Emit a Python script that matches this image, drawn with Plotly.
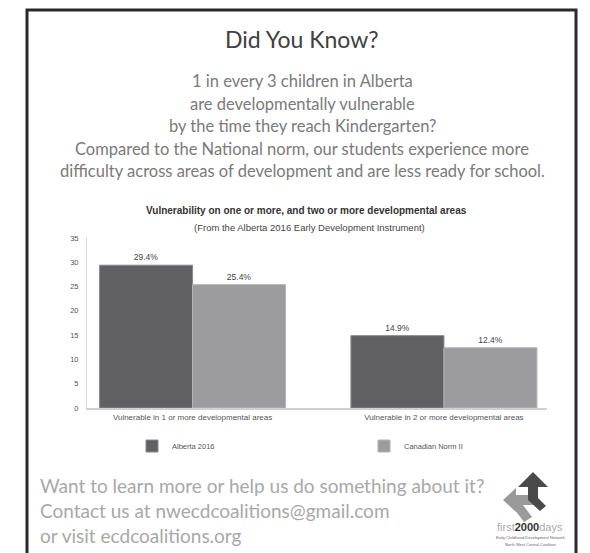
import plotly.graph_objects as go

categories = ["Vulnerable in 1 or more developmental areas", "Vulnerable in 2 or more developmental areas"]
alberta_2016 = [29.4, 14.9]
canadian_norm = [25.4, 12.4]
series_names = ["Alberta 2016", "Canadian Norm II"]
y_ticks = [0, 5, 10, 15, 20, 25, 30, 35]

W, H = 590, 553
L, R, T, B = 87, 43, 238, 145
PW, PH = W - L - R, H - T - B


def px(x):
    return (x - L) / PW


def py(y):
    return (H - B - y) / PH


xpos = list(range(len(categories)))

fig = go.Figure()
fig.add_trace(go.Bar(
    x=xpos, y=alberta_2016, name=series_names[0], legend="legend",
    marker=dict(color="#616163", line=dict(color="#8a8a8a", width=1)),
    text=[f"{v}%" for v in alberta_2016], textposition="outside",
    textfont=dict(size=8.5, color="#444", family="Liberation Sans"),
    cliponaxis=False,
))
fig.add_trace(go.Bar(
    x=xpos, y=canadian_norm, name=series_names[1], legend="legend2",
    marker=dict(color="#9c9c9e", line=dict(color="#b5b5b5", width=1)),
    text=[f"{v}%" for v in canadian_norm], textposition="outside",
    textfont=dict(size=8.5, color="#444", family="Liberation Sans"),
    cliponaxis=False,
))

leg = dict(orientation="h", xanchor="left", yanchor="middle",
           font=dict(size=7.5, color="#555", family="Liberation Sans"), bgcolor="rgba(0,0,0,0)")
fig.update_layout(
    width=W, height=H,
    margin=dict(l=L, r=R, t=T, b=B),
    paper_bgcolor="white", plot_bgcolor="white",
    barmode="group", bargap=0.26, bargroupgap=0,
    font=dict(family="Liberation Sans", color="#555"),
    showlegend=True,
    legend=dict(leg, x=px(132), y=py(446)),
    legend2=dict(leg, x=px(364), y=py(446)),
    xaxis=dict(
        range=[-0.42, 1.41], tickmode="array", tickvals=xpos, ticktext=categories,
        showgrid=False, zeroline=False, showline=True, linecolor="#d0d0d0", linewidth=2,
        tickfont=dict(size=8, color="#555"), ticks="",
    ),
    yaxis=dict(
        range=[0, 35], tickmode="array", tickvals=y_ticks,
        showgrid=False, zeroline=False, showline=True, linecolor="#d8d8d8", linewidth=1,
        tickfont=dict(size=7.5, color="#555"), ticks="", ticklabelstandoff=6,
    ),
)

ann = []
ann.append(dict(text="Did You Know?", x=px(302), y=py(39), font=dict(size=23, color="#404040", family="Lato")))
body = [
    "1 in every 3 children in Alberta",
    "are developmentally vulnerable",
    "by the time they reach Kindergarten?",
    "Compared to the National norm, our students experience more",
    "difficulty across areas of development and are less ready for school.",
]
for i, line in enumerate(body):
    ann.append(dict(text=line, x=px(302), y=py(81 + i * 22.5), font=dict(size=16.5, color="#7a7a7a", family="Lato")))
ann.append(dict(text="<b>Vulnerability on one or more, and two or more developmental areas</b>", x=px(306), y=py(211),
                font=dict(size=10, color="#333", family="Liberation Sans")))
ann.append(dict(text="(From the Alberta 2016 Early Development Instrument)", x=px(309), y=py(227),
                font=dict(size=9.5, color="#444", family="Liberation Sans")))
foot = [
    "Want to learn more or help us do something about it?",
    "Contact us at nwecdcoalitions@gmail.com",
    "or visit ecdcoalitions.org",
]
for i, line in enumerate(foot):
    ann.append(dict(text=line, x=px(38), y=py(485 + i * 25), xanchor="left", font=dict(size=19, color="#a8a8a8", family="Lato")))
ann.append(dict(text="<span style='color:#aaa'>first</span><b>2000</b><span style='color:#aaa'>days</span>",
                x=px(530), y=py(527), font=dict(size=11, color="#333", family="Liberation Sans")))
ann.append(dict(text="Early Childhood Development Network", x=px(530), y=py(537), font=dict(size=4, color="#666")))
ann.append(dict(text="North West Central Coalition", x=px(530), y=py(544), font=dict(size=4, color="#666")))
for a in ann:
    a.update(xref="paper", yref="paper", showarrow=False)
    a.setdefault("xanchor", "center")
    a["yanchor"] = "middle"
fig.update_layout(annotations=ann)


def path(pts):
    return "M" + " L".join(f"{px(x)},{py(y)}" for x, y in pts) + " Z"


shapes = [
    dict(type="rect", xref="paper", yref="paper", x0=px(27), x1=px(576), y0=py(600), y1=py(10),
         line=dict(color="#2a2a2a", width=3), fillcolor="rgba(0,0,0,0)", layer="above"),
    dict(type="path", xref="paper", yref="paper", line=dict(width=0), fillcolor="#9a9a9a",
         path=path([(503, 500), (516, 488), (516, 495), (536, 495), (536, 505), (516, 505), (516, 512)])),
    dict(type="path", xref="paper", yref="paper", line=dict(width=0), fillcolor="#9a9a9a",
         path=path([(512, 506), (520, 501), (532, 517), (524, 522)])),
    dict(type="path", xref="paper", yref="paper", line=dict(width=0), fillcolor="#4a4a4a",
         path=path([(533, 472), (548, 487), (538, 487), (538, 498), (546, 506), (540, 511), (528, 500), (528, 487), (518, 487)])),
]
fig.update_layout(shapes=shapes)

fig.write_html("out.html", config={"displayModeBar": False}, post_script="document.body.style.margin='0';")
